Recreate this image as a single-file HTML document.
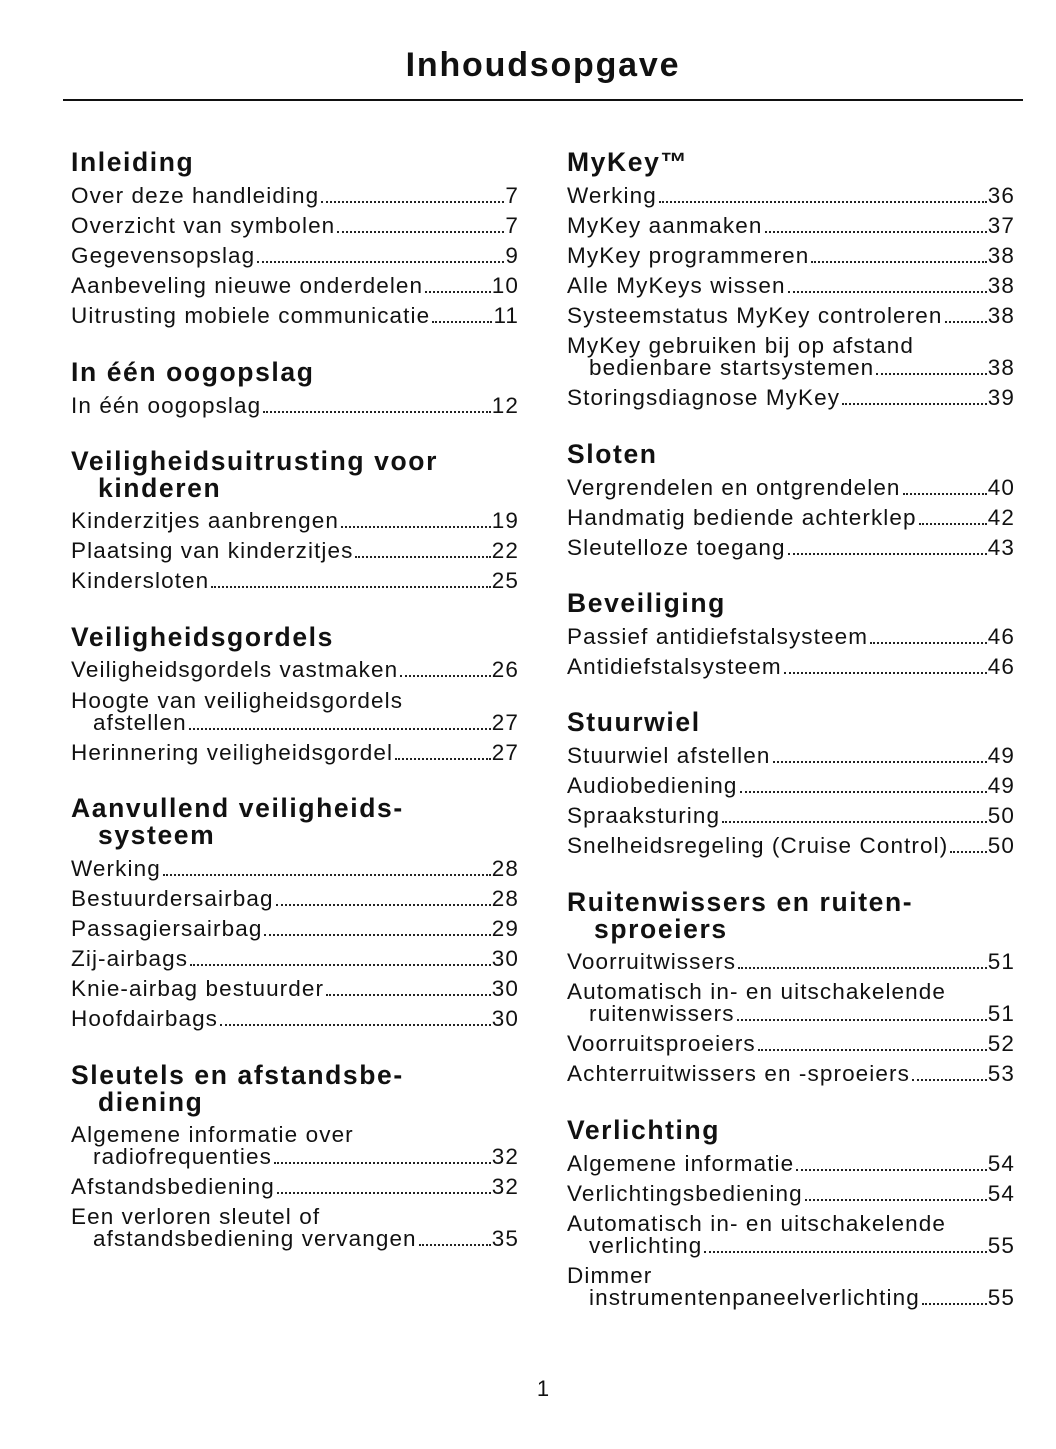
<!DOCTYPE html>
<html><head><meta charset="utf-8">
<style>
html,body{margin:0;padding:0;background:#fff;}
body{width:1056px;height:1449px;position:relative;overflow:hidden;font-family:"Liberation Sans",sans-serif;color:#111;}
.title{position:absolute;left:0;width:1086px;top:46px;text-align:center;font-weight:bold;font-size:34px;letter-spacing:1.8px;}
.rule{position:absolute;left:63px;width:960px;top:99px;height:2px;background:#111;}
.l{position:absolute;height:26px;line-height:26px;font-size:22.5px;display:flex;white-space:nowrap;letter-spacing:1.1px;}
.L{left:71px;width:448px;}
.R{left:567px;width:448px;}
.d{flex:1;border-bottom:2px dotted #222;margin:0 1px 6px 2px;}
.h{position:absolute;font-weight:bold;font-size:26.5px;height:30px;line-height:30px;white-space:nowrap;letter-spacing:1.6px;}
.in{padding-left:22px;box-sizing:border-box;}
.hin{padding-left:27px;}
.pg{position:absolute;left:0;width:1086px;top:1376px;text-align:center;font-size:22px;}
</style></head><body>
<div class="title">Inhoudsopgave</div>
<div class="rule"></div>

<div class="h" style="left:71px;top:147px">Inleiding</div>
<div class="l L" style="top:183px"><span>Over deze handleiding</span><span class="d"></span><span>7</span></div>
<div class="l L" style="top:213px"><span>Overzicht van symbolen</span><span class="d"></span><span>7</span></div>
<div class="l L" style="top:243px"><span>Gegevensopslag</span><span class="d"></span><span>9</span></div>
<div class="l L" style="top:273px"><span>Aanbeveling nieuwe onderdelen</span><span class="d"></span><span>10</span></div>
<div class="l L" style="top:303px"><span>Uitrusting mobiele communicatie</span><span class="d"></span><span>11</span></div>

<div class="h" style="left:71px;top:357px">In één oogopslag</div>
<div class="l L" style="top:393px"><span>In één oogopslag</span><span class="d"></span><span>12</span></div>

<div class="h" style="left:71px;top:446px">Veiligheidsuitrusting voor</div>
<div class="h hin" style="left:71px;top:473px">kinderen</div>
<div class="l L" style="top:508px"><span>Kinderzitjes aanbrengen</span><span class="d"></span><span>19</span></div>
<div class="l L" style="top:538px"><span>Plaatsing van kinderzitjes</span><span class="d"></span><span>22</span></div>
<div class="l L" style="top:568px"><span>Kindersloten</span><span class="d"></span><span>25</span></div>

<div class="h" style="left:71px;top:622px">Veiligheidsgordels</div>
<div class="l L" style="top:657px"><span>Veiligheidsgordels vastmaken</span><span class="d"></span><span>26</span></div>
<div class="l L" style="top:688px"><span>Hoogte van veiligheidsgordels</span></div>
<div class="l L in" style="top:710px"><span>afstellen</span><span class="d"></span><span>27</span></div>
<div class="l L" style="top:740px"><span>Herinnering veiligheidsgordel</span><span class="d"></span><span>27</span></div>

<div class="h" style="left:71px;top:793px">Aanvullend veiligheids-</div>
<div class="h hin" style="left:71px;top:820px">systeem</div>
<div class="l L" style="top:856px"><span>Werking</span><span class="d"></span><span>28</span></div>
<div class="l L" style="top:886px"><span>Bestuurdersairbag</span><span class="d"></span><span>28</span></div>
<div class="l L" style="top:916px"><span>Passagiersairbag</span><span class="d"></span><span>29</span></div>
<div class="l L" style="top:946px"><span>Zij-airbags</span><span class="d"></span><span>30</span></div>
<div class="l L" style="top:976px"><span>Knie-airbag bestuurder</span><span class="d"></span><span>30</span></div>
<div class="l L" style="top:1006px"><span>Hoofdairbags</span><span class="d"></span><span>30</span></div>

<div class="h" style="left:71px;top:1060px">Sleutels en afstandsbe-</div>
<div class="h hin" style="left:71px;top:1087px">diening</div>
<div class="l L" style="top:1122px"><span>Algemene informatie over</span></div>
<div class="l L in" style="top:1144px"><span>radiofrequenties</span><span class="d"></span><span>32</span></div>
<div class="l L" style="top:1174px"><span>Afstandsbediening</span><span class="d"></span><span>32</span></div>
<div class="l L" style="top:1204px"><span>Een verloren sleutel of</span></div>
<div class="l L in" style="top:1226px"><span>afstandsbediening vervangen</span><span class="d"></span><span>35</span></div>

<div class="h" style="left:567px;top:147px">MyKey™</div>
<div class="l R" style="top:183px"><span>Werking</span><span class="d"></span><span>36</span></div>
<div class="l R" style="top:213px"><span>MyKey aanmaken</span><span class="d"></span><span>37</span></div>
<div class="l R" style="top:243px"><span>MyKey programmeren</span><span class="d"></span><span>38</span></div>
<div class="l R" style="top:273px"><span>Alle MyKeys wissen</span><span class="d"></span><span>38</span></div>
<div class="l R" style="top:303px"><span>Systeemstatus MyKey controleren</span><span class="d"></span><span>38</span></div>
<div class="l R" style="top:333px"><span>MyKey gebruiken bij op afstand</span></div>
<div class="l R in" style="top:355px"><span>bedienbare startsystemen</span><span class="d"></span><span>38</span></div>
<div class="l R" style="top:385px"><span>Storingsdiagnose MyKey</span><span class="d"></span><span>39</span></div>

<div class="h" style="left:567px;top:439px">Sloten</div>
<div class="l R" style="top:475px"><span>Vergrendelen en ontgrendelen</span><span class="d"></span><span>40</span></div>
<div class="l R" style="top:505px"><span>Handmatig bediende achterklep</span><span class="d"></span><span>42</span></div>
<div class="l R" style="top:535px"><span>Sleutelloze toegang</span><span class="d"></span><span>43</span></div>

<div class="h" style="left:567px;top:588px">Beveiliging</div>
<div class="l R" style="top:624px"><span>Passief antidiefstalsysteem</span><span class="d"></span><span>46</span></div>
<div class="l R" style="top:654px"><span>Antidiefstalsysteem</span><span class="d"></span><span>46</span></div>

<div class="h" style="left:567px;top:707px">Stuurwiel</div>
<div class="l R" style="top:743px"><span>Stuurwiel afstellen</span><span class="d"></span><span>49</span></div>
<div class="l R" style="top:773px"><span>Audiobediening</span><span class="d"></span><span>49</span></div>
<div class="l R" style="top:803px"><span>Spraaksturing</span><span class="d"></span><span>50</span></div>
<div class="l R" style="top:833px"><span>Snelheidsregeling (Cruise Control)</span><span class="d"></span><span>50</span></div>

<div class="h" style="left:567px;top:887px">Ruitenwissers en ruiten-</div>
<div class="h hin" style="left:567px;top:914px">sproeiers</div>
<div class="l R" style="top:949px"><span>Voorruitwissers</span><span class="d"></span><span>51</span></div>
<div class="l R" style="top:979px"><span>Automatisch in- en uitschakelende</span></div>
<div class="l R in" style="top:1001px"><span>ruitenwissers</span><span class="d"></span><span>51</span></div>
<div class="l R" style="top:1031px"><span>Voorruitsproeiers</span><span class="d"></span><span>52</span></div>
<div class="l R" style="top:1061px"><span>Achterruitwissers en -sproeiers</span><span class="d"></span><span>53</span></div>

<div class="h" style="left:567px;top:1115px">Verlichting</div>
<div class="l R" style="top:1151px"><span>Algemene informatie</span><span class="d"></span><span>54</span></div>
<div class="l R" style="top:1181px"><span>Verlichtingsbediening</span><span class="d"></span><span>54</span></div>
<div class="l R" style="top:1211px"><span>Automatisch in- en uitschakelende</span></div>
<div class="l R in" style="top:1233px"><span>verlichting</span><span class="d"></span><span>55</span></div>
<div class="l R" style="top:1263px"><span>Dimmer</span></div>
<div class="l R in" style="top:1285px"><span>instrumentenpaneelverlichting</span><span class="d"></span><span>55</span></div>

<div class="pg">1</div>
</body></html>
